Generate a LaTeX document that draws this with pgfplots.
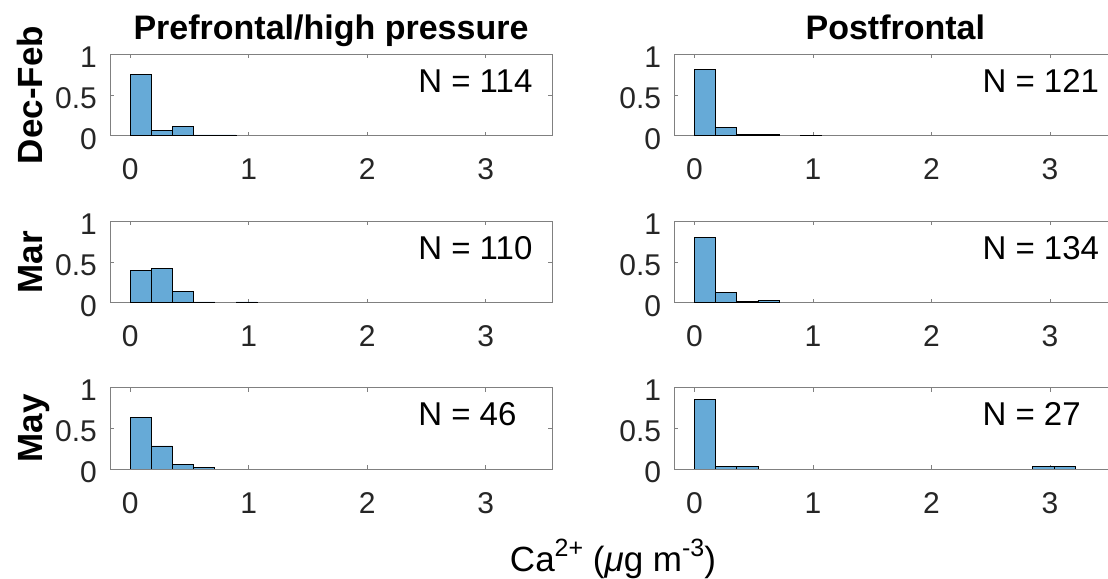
\documentclass[border=0pt]{standalone}
\usepackage{fontspec}
\setmainfont{Liberation Sans}
\usepackage{pgfplots}
\pgfplotsset{compat=1.18}
\definecolor{barblue}{RGB}{102,170,215}
\definecolor{axgray}{RGB}{128,128,128}
\definecolor{ticktext}{RGB}{38,38,38}

\pgfplotsset{
 histax/.style={
  scale only axis, width=442bp, height=81.4bp,
  anchor=south west,
  xmin=-0.17, xmax=3.56, ymin=0, ymax=1,
  xtick={0,1,2,3}, ytick={0,0.5,1},
  tick align=inside, major tick length=4bp,
  axis line style={axgray, line width=0.8bp},
  every tick/.style={axgray, line width=0.8bp},
  /pgf/number format/assume math mode=true,
  tick label style={font=\fontsize{30bp}{36bp}\selectfont, text=ticktext},
  xticklabel style={anchor=base, inner sep=0pt, yshift=-44bp},
  yticklabel style={anchor=east, inner sep=0pt, xshift=-13bp, yshift=-3bp},
 },
 rightax/.style={histax, width=433.3bp, xmax=3.487, axis y line*=left, axis x line*=box},
 histbar/.style={ybar, bar width=0.1785, bar shift=0pt, fill=barblue, draw=black, line width=0.7bp},
}
\newcommand{\Ntext}[1]{\node[anchor=base west, inner sep=0pt, font=\fontsize{33bp}{40bp}\selectfont] at (axis cs:2.43,0.53) {N = #1};}

\begin{document}
\begin{tikzpicture}
\path (0,0) rectangle (1108bp,579bp);

% Row 1
\begin{axis}[histax, at={(110bp,443.3bp)}]
\addplot[histbar] coordinates {(0.08925,0.754) (0.26775,0.061) (0.44625,0.118) (0.62475,0.009) (0.80325,0.009)};
\Ntext{114}
\end{axis}
\begin{axis}[rightax, at={(674.3bp,443.3bp)}]
\addplot[histbar] coordinates {(0.08925,0.816) (0.26775,0.103) (0.44625,0.016) (0.62475,0.016) (0.98175,0.008)};
\Ntext{121}
\end{axis}

% Row 2
\begin{axis}[histax, at={(110bp,276.3bp)}]
\addplot[histbar] coordinates {(0.08925,0.395) (0.26775,0.420) (0.44625,0.141) (0.62475,0.009) (0.98175,0.009)};
\Ntext{110}
\end{axis}
\begin{axis}[rightax, at={(674.3bp,276.3bp)}]
\addplot[histbar] coordinates {(0.08925,0.802) (0.26775,0.128) (0.44625,0.015) (0.62475,0.033)};
\Ntext{134}
\end{axis}

% Row 3
\begin{axis}[histax, at={(110bp,110bp)}]
\addplot[histbar] coordinates {(0.08925,0.636) (0.26775,0.283) (0.44625,0.058) (0.62475,0.015)};
\Ntext{46}
\end{axis}
\begin{axis}[rightax, at={(674.3bp,110bp)}]
\addplot[histbar] coordinates {(0.08925,0.858) (0.26775,0.033) (0.44625,0.033) (2.94525,0.033) (3.12375,0.033)};
\Ntext{27}
\end{axis}

% Column titles
\node[anchor=base, inner sep=0pt, font=\fontsize{34bp}{40bp}\selectfont\bfseries] at (331bp,539.7bp) {Prefrontal/high pressure};
\node[anchor=base, inner sep=0pt, font=\fontsize{34bp}{40bp}\selectfont\bfseries] at (895.3bp,539.7bp) {Postfrontal};

% Row labels
\node[rotate=90, anchor=base, inner sep=0pt, font=\fontsize{35bp}{40bp}\selectfont\bfseries] at (42bp,484bp) {Dec-Feb};
\node[rotate=90, anchor=base, inner sep=0pt, font=\fontsize{35bp}{40bp}\selectfont\bfseries] at (42bp,316.8bp) {Mar};
\node[rotate=90, anchor=base, inner sep=0pt, font=\fontsize{35bp}{40bp}\selectfont\bfseries] at (42bp,150.7bp) {May};

% x label
\node[anchor=base, inner sep=0pt, font=\fontsize{35bp}{40bp}\selectfont] at (613bp,8bp) {Ca\raisebox{0.42em}{\fontsize{25bp}{25bp}\selectfont 2+} (\textit{μ}g m\raisebox{0.42em}{\fontsize{25bp}{25bp}\selectfont -3})};
\end{tikzpicture}
\end{document}
